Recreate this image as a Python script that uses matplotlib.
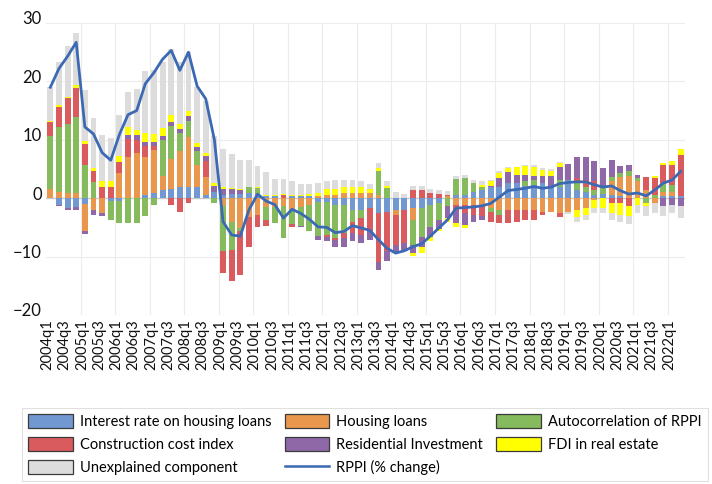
import numpy as np
import matplotlib.pyplot as plt
from matplotlib.patches import Patch
from matplotlib.lines import Line2D
from matplotlib.transforms import ScaledTranslation

plt.rcParams['font.family'] = ['Lato', 'DejaVu Sans']

# ---------------------------------------------------------------------------
# Data: contributions to RPPI growth, 2004q1 - 2022q2
quarters = [f'{yr}q{q}' for yr in range(2004, 2023) for q in range(1, 5)][:74]

interest = [0, -1.2, -1.7, -1.5, -1.0, 0, 0, -0.4, -0.4, 0,
            0, 0.6, 0.9, 1.4, 1.5, 1.9, 2.0, 2.0, 0.6, 1.0,
            0.6, 0.8, 0.8, 0.9, 0.8, 0.3, 0.4, 0, 0.3, 0.3,
            0.3, -0.6, -0.6, -1.1, -1.1, -2.0, -2.1, -1.7, -2.6, -2.3,
            -2.0, -2.0, -1.7, -1.7, -1.1, -0.8, 0, 0.6, 0.6, 1.1,
            1.4, 2.0, 2.0, 2.6, 2.6, 2.1, 2.3, 2.6, 2.0, 2.0,
            3.1, 1.4, 1.0, 0.6, 0.7, 0.6, 0.3, 0, 0, 0,
            0, 0.3, 0.4, 0.3]

loans = [1.5, 1.0, 0.9, 0.9, -4.7, -2.1, -2.5, 0, 4.3, 7.1,
         7.8, 6.5, 7.3, 2.4, 5.2, 6.2, 8.5, 3.6, 3.1, 0,
         -1.3, -4.0, -5.1, -3.3, -2.9, -1.5, -1.5, -1.4, -1.8, -1.5,
         -1.1, 0.4, 0.6, 0.6, 0.9, 0.9, 0.9, 0.9, 0.6, 0,
         -0.9, 0, -2.0, 0, 0, 0, 0.4, -1.1, -1.1, -1.1,
         -1.4, -1.7, -2.0, -2.1, -2.0, -2.1, -2.0, -2.3, -2.3, -2.6,
         -2.3, -2.0, -1.7, -0.3, 0, 2.3, 3.4, 3.8, 2.9, 1.4,
         -0.9, 0.8, 0.7, 0]

autocorr = [9.2, 11.2, 11.8, 13.0, 5.6, 2.7, 0, -3.4, -3.9, -4.3,
            -4.3, -3.0, -1.2, 6.1, 5.6, 3.0, 2.8, 2.4, 0, -0.9,
            -7.8, -4.9, -0.5, 1.1, 1.0, -2.3, -2.8, -5.4, -2.6, -3.3,
            -4.6, -5.9, -5.7, -5.7, -4.9, -2.0, -1.3, 0, 4.0, 1.7,
            0, 0, -4.3, -4.9, -3.8, -3.0, -1.3, 2.7, 2.8, 1.5,
            0.5, -0.6, -0.9, 0, 0, 0.8, 0.9, 0, 0, 1.1,
            0, 1.2, 0.9, 0.8, 1.0, 0.8, 0.7, 0.8, 0.5, -0.9,
            0.6, 1.3, 1.2, 0]

construction = [2.3, 3.5, 4.4, 5.0, 3.6, 1.9, 2.0, 2.0, 1.9, 3.0,
                2.2, 1.8, 0.7, 0, -1.1, -2.3, -0.9, 0, 2.6, 0,
                -3.7, -5.2, -7.5, -5.0, -2.0, -1.0, 0, 0.5, -0.5, 0,
                0, 0, -0.4, -0.3, -0.9, -2.0, -2.9, -4.0, -8.3, -6.8,
                -5.1, -5.7, 1.4, 1.4, 0.9, 0.8, 0.2, -0.9, -1.5, -1.8,
                -1.7, -1.7, -1.4, -2.1, -2.0, -1.7, -1.7, -0.6, 0, -0.7,
                0, 0.8, 1.2, 1.5, 0, -0.9, -0.9, -1.3, 0, 2.2,
                2.8, 3.2, 3.4, 7.1]

residential = [0, -0.2, -0.3, -0.5, -0.5, -0.8, -0.5, 0, 0, 0.8,
               0.9, 0.8, 0.8, 0.8, 0.7, 0.7, 0.7, 0.7, 0.9, 1.1,
               1.0, 0.8, 0.6, 0, 0, 0, 0, -0.1, 0, -0.2,
               0, -0.6, -0.7, -1.2, -1.4, -1.4, -1.3, -1.4, -1.4, -1.6,
               -1.4, -1.2, -1.4, -1.7, -1.7, -1.4, -2.1, -2.3, -2.0, -1.1,
               -0.6, 0.1, 1.4, 1.9, 1.4, 1.1, 0.6, 1.2, 1.8, 2.3,
               2.8, 3.7, 3.9, 3.4, 3.4, 2.8, 1.1, 1.0, 0.6, 0,
               0, -1.3, -1.1, -1.3]

fdi = [0.2, 0.3, 0.2, 0.4, 0.6, 0.5, 0.9, 0.9, 1.1, 1.3,
       0.8, 1.4, 1.3, 1.3, 1.2, 0.9, 0.9, 0.7, 0.6, 0.5,
       0.3, 0.2, 0.2, 0, 0.1, 0.2, 0.2, 0.2, 0.3, 0.3,
       0.4, 0.5, 0.9, 0.9, 1.1, 1.1, 1.1, 0.7, 0.6, 0.4,
       0, 0, -0.5, -1.1, -0.8, -0.5, -0.6, -0.7, -0.5, 0,
       0.4, 0.8, 0.9, 0.6, 1.3, 1.5, 1.6, 1.1, 0.9, 0.7,
       0, -1.3, -1.2, -1.4, -1.7, -1.7, -2.0, -1.8, -1.1, -0.5,
       0.4, 0.4, 0.7, 1.0]

unexplained = [5.9, 7.3, 8.7, 9.0, 8.7, 8.6, 8.0, 7.4, 7.0, 5.9,
               7.0, 10.7, 11.0, 11.4, 11.3, 10.7, 10.1, 9.6, 8.8, 8.0,
               6.5, 5.7, 5.0, 4.5, 3.6, 4.0, 2.7, 2.6, 2.3, 1.9,
               1.8, 1.7, 1.4, 1.6, 1.1, 1.1, 0.9, 0.9, 0.9, 0.9,
               1.0, 0.7, 0.7, 0.7, 0.6, 0.6, 0.7, 0.5, 0.6, 0.5,
               0.6, 0.2, 0.3, 0.3, 0.1, 0.1, 0.3, 0.2, 0.3, 0.1,
               -0.4, -0.7, -0.8, -0.9, -0.9, -1.2, -1.1, -1.3, -1.5, -1.7,
               -1.7, -1.8, -1.5, -2.1]

rppi = [19.0, 22.2, 24.3, 26.7, 12.2, 11.0, 7.8, 6.5, 10.9, 14.3,
        15.0, 19.6, 21.5, 23.8, 25.3, 21.9, 25.0, 19.2, 17.0, 10.0,
        -4.0, -6.3, -6.5, -2.0, 0.7, -0.5, -1.1, -3.4, -1.9, -2.6,
        -3.6, -4.9, -5.0, -5.9, -5.7, -4.7, -5.1, -5.5, -7.1, -8.6,
        -9.4, -9.0, -8.3, -7.8, -6.5, -5.1, -3.7, -1.7, -1.6, -1.5,
        -1.3, -0.9, 0.2, 1.3, 1.5, 1.7, 2.0, 1.7, 1.9, 2.5,
        2.7, 2.8, 2.8, 2.3, 1.9, 2.1, 1.3, 0.7, 0.9, 0.4,
        1.4, 2.6, 3.1, 4.6]

series = [interest, loans, autocorr, construction, residential, fdi, unexplained]
labels = ['Interest rate on housing loans', 'Housing loans', 'Autocorrelation of RPPI',
          'Construction cost index', 'Residential Investment', 'FDI in real estate',
          'Unexplained component']
colors = ['#7298d1', '#e9974c', '#85bb5c', '#d95b5d', '#8f68a8', '#ffff00', '#dcdcdc']
line_color = '#3c69b4'

# Font sizes
TKF = 10.5   # x tick font
YTF = 12     # y tick font
LGF = 10.5   # legend font
# ---------------------------------------------------------------------------

fig = plt.figure(figsize=(7.12, 4.84), dpi=100)
ax = fig.add_axes([46/712, 1 - 315/484, 639/712, 292/484])

x = np.arange(len(quarters))
pos_bottom = np.zeros(len(x))
neg_bottom = np.zeros(len(x))
for vals, col in zip(series, colors):
    v = np.array(vals, dtype=float)
    pos = np.where(v > 0, v, 0)
    neg = np.where(v < 0, v, 0)
    ax.bar(x, pos, 0.68, bottom=pos_bottom, color=col, zorder=2)
    ax.bar(x, neg, 0.68, bottom=neg_bottom, color=col, zorder=2)
    pos_bottom += pos
    neg_bottom += neg

ax.plot(x, rppi, color=line_color, lw=2.0, zorder=3, solid_joinstyle='round')

# Axes look
ax.set_xlim(-0.5, len(x) - 0.5)
ax.set_ylim(-20, 30)
ax.set_yticks(np.arange(-20, 31, 10))
for s in ax.spines.values():
    s.set_visible(False)
ax.axhline(0, color='#c9c9c9', lw=1, zorder=1)
for yv in np.arange(-20, 31, 10):
    if yv != 0:
        ax.axhline(yv, color='#ececec', lw=0.8, zorder=0)
for xv in np.arange(3.5, len(x) - 0.5, 4):
    ax.axvline(xv, color='#ececec', lw=0.8, zorder=0)

ax.set_xticks(x[::2])
ax.set_xticklabels(quarters[::2], rotation=90, fontsize=TKF, color='#111111')
ax.tick_params(axis='both', length=0)
ax.tick_params(axis='x', pad=3)
ax.tick_params(axis='y', pad=3, labelsize=YTF, labelcolor='#111111')

# small offsets to follow the original label placement
for lab in ax.get_xticklabels():
    lab.set_transform(lab.get_transform() + ScaledTranslation(-3/100, 0, fig.dpi_scale_trans))
for lab in ax.get_yticklabels():
    lab.set_transform(lab.get_transform() + ScaledTranslation(0, 5/100, fig.dpi_scale_trans))

# Legend (row-wise as in original -> reorder for column filling)
handles = [Patch(facecolor=c, edgecolor='#3a3a3a', lw=0.9, label=l) for c, l in zip(colors, labels)]
handles.append(Line2D([0], [0], color=line_color, lw=1.8, label='RPPI (% change)'))
order = [0, 3, 6, 1, 4, 7, 2, 5]
leg = fig.legend(handles=[handles[i] for i in order], ncol=3, loc='upper left',
                 bbox_to_anchor=(22/712, 1 - 408/484), borderaxespad=0, fontsize=LGF,
                 frameon=True, fancybox=False, edgecolor='#d9d9d9',
                 handlelength=3.05, handleheight=1.1, handletextpad=0.5,
                 columnspacing=0.9, labelspacing=0.55, borderpad=0.42)
leg.get_frame().set_linewidth(0.8)

fig.savefig('out.png', dpi=100)
